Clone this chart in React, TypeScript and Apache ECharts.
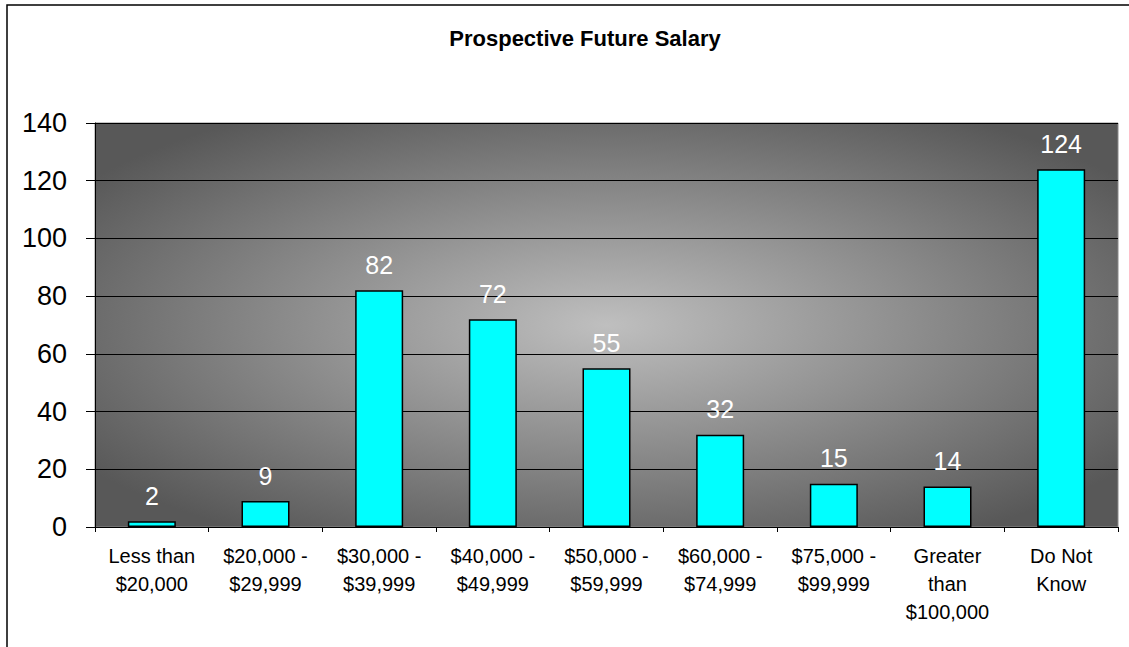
import React, { useEffect, useRef } from "react";
import * as echarts from "echarts";

const chartTitle = "Prospective Future Salary";
const categories = [
  "Less than\n$20,000",
  "$20,000 -\n$29,999",
  "$30,000 -\n$39,999",
  "$40,000 -\n$49,999",
  "$50,000 -\n$59,999",
  "$60,000 -\n$74,999",
  "$75,000 -\n$99,999",
  "Greater\nthan\n$100,000",
  "Do Not\nKnow",
];
const counts = [2, 9, 82, 72, 55, 32, 15, 14, 124];
const yMin = 0;
const yMax = 140;
const yInterval = 20;

const FONT = "'Liberation Sans', Arial, Helvetica, sans-serif";

export default function App() {
  const ref = useRef<HTMLDivElement>(null);

  useEffect(() => {
    if (!ref.current) return;
    const chart = echarts.init(ref.current, undefined, { renderer: "svg" });
    chart.setOption({
      animation: false,
      backgroundColor: "#ffffff",
      title: {
        text: chartTitle,
        left: 580,
        textAlign: "center",
        top: 22,
        textStyle: { fontFamily: FONT, fontSize: 22, fontWeight: "bold", color: "#000" },
      },
      graphic: [
        {
          type: "rect",
          shape: { x: 7, y: 5, width: 1200, height: 700 },
          style: { fill: "none", stroke: "#000", lineWidth: 1.5 },
          silent: true,
          z: 100,
        },
      ],
      grid: {
        left: 95,
        right: 11,
        top: 123,
        bottom: 120,
        show: true,
        borderColor: "#8a8a8a",
        borderWidth: 1,
        backgroundColor: {
          type: "radial",
          x: 0.5,
          y: 0.5,
          r: 0.62,
          colorStops: [
            { offset: 0, color: "#bfbfbf" },
            { offset: 1, color: "#585858" },
          ],
        },
      },
      xAxis: {
        type: "category",
        data: categories,
        axisLine: { lineStyle: { color: "#000", width: 1 } },
        axisTick: { show: true, length: 5, alignWithLabel: false, lineStyle: { color: "#000" } },
        axisLabel: {
          interval: 0,
          margin: 15,
          fontFamily: FONT,
          fontSize: 20,
          lineHeight: 28,
          color: "#000",
          verticalAlign: "top",
        },
      },
      yAxis: {
        type: "value",
        min: yMin,
        max: yMax,
        interval: yInterval,
        axisLine: { show: true, lineStyle: { color: "#000", width: 1 } },
        axisTick: { show: true, length: 9, lineStyle: { color: "#000" } },
        axisLabel: { margin: 28, fontFamily: FONT, fontSize: 27, color: "#000" },
        splitLine: { show: true, lineStyle: { color: "#000", width: 1 } },
      },
      series: [
        {
          type: "bar",
          data: counts,
          barWidth: 48,
          itemStyle: { color: "#00ffff", borderColor: "#000", borderWidth: 1.5 },
          label: {
            show: true,
            position: "top",
            distance: 13,
            fontFamily: FONT,
            fontSize: 25,
            color: "#ffffff",
          },
        },
      ],
    });
    return () => chart.dispose();
  }, []);

  return (
    <div
      ref={ref}
      style={{ position: "fixed", left: 0, top: 0, width: 1129, height: 647 }}
    />
  );
}
